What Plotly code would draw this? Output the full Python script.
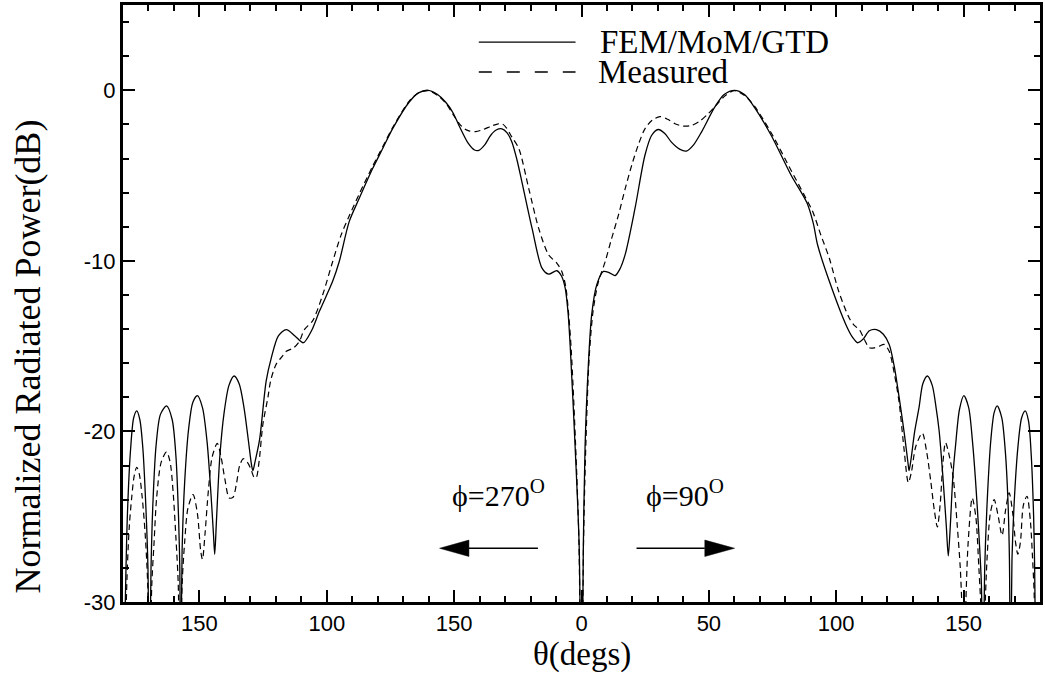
import plotly.graph_objects as go

# ---------------- data ----------------
theta_fem = [
    -179.6, -178.3, -177.0, -175.8, -174.6, -173.4, -172.2, -171.0, -170.2, -169.7,
    -169.0, -168.2, -167.0, -165.3, -162.9, -160.7, -159.2, -158.2, -157.7, -157.4,
    -156.8, -155.8, -154.2, -152.6, -150.8, -148.8, -147.0, -145.5, -144.5, -144.0,
    -143.3, -142.0, -140.3, -138.4, -136.4, -134.4, -132.5, -130.8, -129.5, -129.0,
    -128.2, -126.4, -123.8, -121.8, -119.0, -115.9, -112.5, -109.2, -106.0, -102.9,
    -97.7, -95.1, -91.2, -87.3, -82.0, -78.0, -74.2, -67.7, -64.0, -60.1,
    -56.5, -53.3, -50.5, -48.1, -44.5, -42.0, -40.3, -38.0, -35.7, -33.5,
    -31.2, -29.2, -27.3, -25.3, -23.4, -19.4, -15.5, -12.9, -9.7, -7.8,
    -6.4, -5.3, -4.4, -2.5, -0.9, 0.0, 0.7, 1.4, 2.7, 4.0,
    6.0, 8.6, 11.0, 13.2, 15.0, 17.1, 21.0, 24.9, 27.5, 30.1,
    32.8, 35.3, 38.5, 41.2, 44.0, 47.1, 52.3, 56.0, 60.1, 64.0,
    67.9, 74.5, 82.3, 88.5, 91.0, 92.7, 97.3, 103.8, 106.5, 108.4,
    110.5, 113.0, 115.8, 118.5, 120.8, 122.8, 124.7, 126.8, 128.3, 128.6,
    129.4, 130.8, 132.5, 134.0, 135.8, 137.7, 139.2, 140.4, 141.8, 143.2,
    144.0, 144.8, 145.8, 146.8, 148.4, 150.1, 152.0, 153.5, 154.7, 156.0,
    157.0, 157.6, 158.3, 159.3, 160.7, 162.0, 163.2, 165.0, 166.4, 167.4,
    168.0, 168.4, 169.0, 170.0, 171.4, 172.8, 174.2, 175.5, 176.6, 177.5,
    177.9, 178.5,
]
fem_db = [
    -34, -25, -21, -19.2, -18.8, -19.3, -21, -24.5, -28, -36,
    -28, -24, -20.8, -19.0, -18.5, -19.3, -21.5, -25, -28, -36,
    -27, -23, -19.8, -18.3, -17.9, -18.6, -20.6, -23.6, -26, -27.2,
    -25.2, -21.5, -18.9, -17.3, -16.75, -17.2, -18.6, -20.5, -22.0, -22.3,
    -21.8, -20.5, -17.05, -15.7, -14.4, -14.03, -14.4, -14.8, -14.1, -12.96,
    -11.2, -10.04, -7.7, -6.35, -4.59, -3.4, -2.26, -0.7, -0.15, 0.0,
    -0.25, -0.7, -1.3, -2.06, -3.1, -3.5, -3.52, -3.2, -2.65, -2.33,
    -2.26, -2.5, -3.04, -4.1, -5.37, -8.1, -10.43, -10.78, -10.58, -10.9,
    -11.6, -13.0, -15.1, -20.9, -26.8, -40, -27, -20.9, -16.07, -13.15,
    -11.4, -10.62, -10.7, -10.86, -10.5, -9.65, -6.93, -3.81, -2.65, -2.3,
    -2.55, -3.04, -3.45, -3.56, -3.2, -2.45, -0.99, -0.25, 0.0, -0.25,
    -1.0, -2.65, -4.98, -6.6, -7.8, -9.07, -11.2, -13.74, -14.5, -14.8,
    -14.6, -14.1, -14.03, -14.3, -14.9, -16.2, -18.0, -20.2, -22.0, -22.3,
    -21.6, -20.0, -18.6, -17.2, -16.75, -17.3, -18.6, -19.96, -22.5, -25.5,
    -27.3, -25.5, -22.6, -20.9, -18.7, -17.9, -18.6, -20.6, -22.9, -26,
    -29, -36, -28, -24, -20.5, -18.9, -18.5, -19.2, -21.2, -24,
    -27.5, -36, -27.5, -23.8, -20.8, -19.2, -18.8, -19.4, -21.5, -25,
    -28, -36,
]

theta_meas = [
    -179.4, -178.3, -177.5, -176.6, -175.6, -174.6, -173.6, -172.5, -171.3, -170.3,
    -169.7, -168.7, -167.8, -166.8, -165.0, -162.9, -161.5, -160.3, -159.2, -158.3,
    -157.7, -156.8, -155.8, -154.5, -152.5, -150.8, -149.5, -148.8, -147.8, -146.5,
    -145.0, -143.0, -141.5, -140.0, -138.3, -136.8, -135.5, -134.2, -132.8, -131.2,
    -129.8, -128.5, -127.7, -126.6, -125.1, -123.1, -122.0, -119.9, -117.5, -115.9,
    -113.0, -110.7, -108.8, -105.5, -101.6, -98.0, -94.4, -91.0, -87.0, -82.0,
    -78.0, -74.2, -67.7, -64.0, -60.0, -56.5, -53.3, -50.5, -48.0, -46.0,
    -44.2, -41.6, -38.5, -35.5, -33.0, -31.2, -29.5, -27.5, -24.6, -20.7,
    -16.8, -12.9, -9.7, -7.8, -6.2, -5.0, -4.0, -2.4, -1.0, 0.0,
    0.8, 1.8, 3.0, 4.5, 6.5, 9.3, 11.8, 14.5, 17.1, 19.7,
    22.3, 24.9, 27.8, 30.8, 33.8, 36.7, 40.0, 43.2, 46.5, 49.7,
    53.0, 56.5, 60.0, 64.0, 68.0, 74.5, 82.3, 88.0, 90.8, 94.0,
    97.3, 101.0, 105.1, 107.2, 109.1, 111.0, 113.0, 115.0, 116.9, 118.8,
    120.8, 122.8, 124.7, 126.6, 128.3, 129.5, 131.2, 133.8, 135.5, 137.1,
    138.5, 139.7, 140.8, 141.9, 142.9, 144.5, 146.0, 147.5, 148.7, 149.5,
    150.1, 150.9, 151.8, 153.4, 154.8, 156.0, 157.0, 157.6, 158.3, 159.2,
    160.5, 162.0, 163.5, 165.1, 166.5, 167.9, 169.3, 170.4, 171.3, 172.3,
    173.5, 174.9, 176.2, 177.1, 177.7, 178.3,
]
meas_db = [
    -34, -28, -25.5, -23.9, -22.6, -22.1, -22.5, -23.8, -26, -29,
    -36, -29, -26.5, -23.9, -21.8, -21.2, -21.8, -23.6, -26.3, -29,
    -36, -29, -26.5, -24.5, -23.7, -24.8, -27.0, -27.5, -26, -23.5,
    -21.5, -20.7, -21.5, -22.8, -23.9, -23.86, -23.1, -22.0, -21.6, -21.8,
    -22.2, -22.7, -22.7, -21.8, -19.6, -18.0, -17.0, -16.07, -15.6, -15.3,
    -15.1, -14.7, -14.03, -13.5, -11.99, -10.2, -8.49, -7.3, -6.0, -4.45,
    -3.3, -2.2, -0.65, -0.15, -0.03, -0.3, -0.75, -1.4, -1.95, -2.25,
    -2.38, -2.42, -2.3, -2.1, -1.98, -1.96, -2.2, -2.7, -3.42, -5.76,
    -8.1, -9.65, -10.13, -10.6, -11.5, -13.2, -15.3, -20.5, -26.5, -40,
    -26.5, -20.3, -15.7, -13.0, -11.3, -10.04, -8.7, -7.32, -5.8, -4.4,
    -3.2, -2.26, -1.75, -1.54, -1.7, -1.96, -2.1, -2.06, -1.8, -1.38,
    -0.85, -0.3, -0.02, -0.3, -0.95, -2.5, -4.7, -6.3, -7.12, -8.5,
    -9.85, -11.8, -13.35, -13.8, -14.03, -14.6, -15.1, -15.1, -15.0, -14.9,
    -15.3, -16.6, -18.3, -21, -23.0, -22.4, -20.9, -20.1, -21.2, -22.9,
    -24.6, -25.6, -24.3, -21.8, -20.65, -21.5, -22.8, -25.5, -28, -31,
    -36, -30, -26.5, -23.9, -25, -28, -31, -36, -31, -27.5,
    -24.8, -24.0, -24.9, -26.1, -24.6, -23.6, -24.8, -26.5, -27.2, -26.5,
    -24.3, -23.8, -25.2, -27.5, -29.5, -36,
]

x_tickvals = [-150, -100, -50, 0, 50, 100, 150]
x_ticktext = ["150", "100", "150", "0", "50", "100", "150"]
y_tickvals = [-30, -20, -10, 0]
y_ticktext = ["-30", "-20", "-10", "0"]

series_names = ["FEM/MoM/GTD", "Measured"]

# decorative arrows (data coordinates)
arrow_y = -26.85
arrow_left = dict(tail=-17.1, base=-44.2, tip=-55.7, half=0.48)
arrow_right = dict(tail=21.6, base=48.4, tip=60.1, half=0.48)

SERIF = "Liberation Serif, Times New Roman, serif"
SANS = "Liberation Sans, Arial, sans-serif"

fig = go.Figure()
fig.add_trace(go.Scatter(
    x=theta_fem, y=fem_db, mode="lines", name=series_names[0],
    line=dict(color="black", width=1.3, shape="spline", smoothing=0.8),
    showlegend=False))
fig.add_trace(go.Scatter(
    x=theta_meas, y=meas_db, mode="lines", name=series_names[1],
    line=dict(color="black", width=1.2, dash="6px,4px", shape="spline", smoothing=0.8),
    showlegend=False))

axis_common = dict(
    showline=True, linewidth=3, linecolor="black", mirror="ticks",
    ticks="inside", ticklen=12, tickwidth=1.5, tickcolor="black",
    showgrid=False, zeroline=False,
    tickfont=dict(family=SANS, size=22, color="black"),
)

fig.update_xaxes(range=[-180, 180], tickmode="array", tickvals=x_tickvals,
                 ticktext=x_ticktext,
                 minor=dict(tickmode="linear", tick0=0, dtick=10, ticks="inside",
                            ticklen=6, tickwidth=1.5, tickcolor="black"),
                 **axis_common)
fig.update_yaxes(range=[-30, 5], tickmode="array", tickvals=y_tickvals,
                 ticktext=y_ticktext,
                 minor=dict(tickmode="linear", tick0=0, dtick=2, ticks="inside",
                            ticklen=6, tickwidth=1.5, tickcolor="black"),
                 **axis_common)

shapes = []
# legend samples
shapes.append(dict(type="line", xref="paper", yref="paper", x0=0.388, x1=0.4935,
                   y0=0.9378, y1=0.9378, line=dict(color="black", width=1.3)))
shapes.append(dict(type="line", xref="paper", yref="paper", x0=0.388, x1=0.4935,
                   y0=0.8878, y1=0.8878, line=dict(color="black", width=1.3, dash="13px,15px")))
# arrows
for a in (arrow_left, arrow_right):
    shapes.append(dict(type="line", xref="x", yref="y", x0=a["tail"], x1=a["base"],
                       y0=arrow_y, y1=arrow_y, line=dict(color="black", width=1.5)))
    shapes.append(dict(type="path", xref="x", yref="y",
                       path=f"M {a['tip']},{arrow_y} L {a['base']},{arrow_y + a['half']} "
                            f"L {a['base']},{arrow_y - a['half']} Z",
                       fillcolor="black", line=dict(color="black", width=0.5)))

annotations = [
    dict(text=series_names[0], xref="paper", yref="paper", x=0.5185, y=0.9383,
         xanchor="left", yanchor="middle", showarrow=False,
         font=dict(family=SERIF, size=33, color="black")),
    dict(text=series_names[1], xref="paper", yref="paper", x=0.5163, y=0.8883,
         xanchor="left", yanchor="middle", showarrow=False,
         font=dict(family=SERIF, size=33, color="black")),
    dict(text="\u03d5=270<sup>O</sup>", xref="x", yref="y", x=-32.5, y=-23.6,
         xanchor="center", yanchor="middle", showarrow=False,
         font=dict(family=SERIF, size=30, color="black")),
    dict(text="\u03d5=90<sup>O</sup>", xref="x", yref="y", x=40.7, y=-23.6,
         xanchor="center", yanchor="middle", showarrow=False,
         font=dict(family=SERIF, size=30, color="black")),
    dict(text="\u03b8(degs)", xref="paper", yref="paper", x=0.5, y=-0.0883,
         xanchor="center", yanchor="middle", showarrow=False,
         font=dict(family=SERIF, size=33, color="black")),
    dict(text="Normalized Radiated Power(dB)", xref="paper", yref="paper",
         x=-0.1033, y=0.4117, xanchor="center", yanchor="middle", showarrow=False,
         textangle=-90, font=dict(family=SERIF, size=36, color="black")),
]

fig.update_layout(
    width=1045, height=677,
    margin=dict(l=123, r=2, t=2, b=75, pad=0),
    paper_bgcolor="white", plot_bgcolor="white",
    shapes=shapes, annotations=annotations,
    showlegend=False,
)

fig.write_html("out.html")
